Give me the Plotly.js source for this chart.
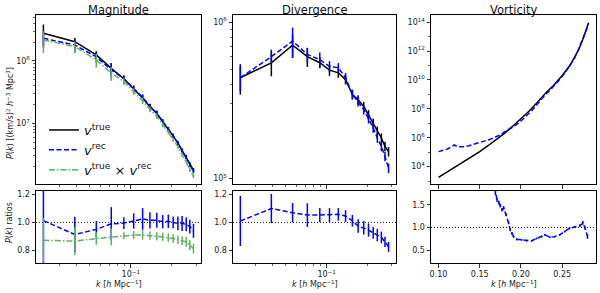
<!DOCTYPE html>
<html>
<head>
<meta charset="utf-8">
<script src="https://cdn.plot.ly/plotly-3.0.1.min.js"></script>
<style>html,body{margin:0;padding:0;background:#fff;}#chart{width:600px;height:293px;}</style>
</head>
<body>
<div id="chart"></div>
<script>
// ---------- data ----------
const panelTitles = ["Magnitude", "Divergence", "Vorticity"];
const legendNames = ["<i>v</i><sup>true</sup>", "<i>v</i><sup>rec</sup>", "<i>v</i><sup>true</sup> × <i>v</i><sup>rec</sup>"];

// k bins for magnitude and divergence [h/Mpc]
const kBins = [0.023, 0.039, 0.056, 0.072, 0.089, 0.105, 0.122, 0.138, 0.155, 0.171, 0.188, 0.204, 0.221, 0.237, 0.254, 0.270, 0.287];

// Magnitude power spectra
const magTrue  = [2.79e8, 2.04e8, 1.25e8, 7.6e7, 5.2e7, 3.6e7, 2.55e7, 1.85e7, 1.44e7, 1.06e7, 8.1e6, 6.3e6, 4.8e6, 3.7e6, 2.9e6, 2.2e6, 1.78e6];
const magRec   = [2.31e8, 1.81e8, 1.16e8, 7.2e7, 5.2e7, 3.6e7, 2.6e7, 1.87e7, 1.45e7, 1.07e7, 8.1e6, 6.3e6, 4.8e6, 3.65e6, 2.85e6, 2.15e6, 1.7e6];
const magCross = [2.17e8, 1.70e8, 1.04e8, 6.4e7, 4.7e7, 3.25e7, 2.3e7, 1.68e7, 1.3e7, 9.5e6, 7.2e6, 5.5e6, 4.2e6, 3.15e6, 2.45e6, 1.8e6, 1.42e6];
// relative 1-sigma errors
const magTrueRelErr  = [0.38, 0.15, 0.15, 0.22, 0.12, 0.12, 0.12, 0.10, 0.10, 0.09, 0.08, 0.08, 0.07, 0.07, 0.07, 0.07, 0.07];
const magRecRelErr   = [0.30, 0.25, 0.20, 0.28, 0.12, 0.12, 0.12, 0.10, 0.10, 0.09, 0.08, 0.08, 0.07, 0.07, 0.07, 0.07, 0.07];
const magCrossRelErr = [0.38, 0.20, 0.25, 0.25, 0.12, 0.12, 0.12, 0.10, 0.10, 0.09, 0.08, 0.08, 0.07, 0.07, 0.07, 0.07, 0.07];

// Magnitude ratios
const magRatioRec      = [1.013, 0.913, 0.950, 0.990, 0.995, 1.010, 1.025, 1.015, 1.015, 1.005, 1.008, 1.000, 0.993, 0.993, 0.986, 0.970, 0.940];
const magRatioRecErr   = [0.40, 0.128, 0.06, 0.12, 0.042, 0.055, 0.078, 0.058, 0.054, 0.048, 0.048, 0.042, 0.05, 0.054, 0.05, 0.05, 0.05];
const magRatioCross    = [0.872, 0.865, 0.884, 0.896, 0.905, 0.909, 0.910, 0.905, 0.900, 0.897, 0.890, 0.884, 0.875, 0.868, 0.860, 0.836, 0.812];
const magRatioCrossErr = [0.16, 0.10, 0.045, 0.06, 0.025, 0.03, 0.035, 0.03, 0.03, 0.03, 0.03, 0.03, 0.03, 0.03, 0.035, 0.035, 0.035];

// Divergence power spectra
const divTrue = [4.4e5, 5.48e5, 7.1e5, 6.0e5, 5.49e5, 4.92e5, 4.73e5, 4.28e5, 3.43e5, 3.18e5, 2.88e5, 2.55e5, 2.25e5, 2.0e5, 1.81e5, 1.6e5, 1.48e5];
const divRec  = [4.4e5, 6.0e5, 7.55e5, 6.2e5, 5.75e5, 5.2e5, 5.1e5, 4.4e5, 3.45e5, 3.1e5, 2.75e5, 2.41e5, 2.1e5, 1.81e5, 1.6e5, 1.38e5, 1.16e5];
const divTrueRelErr = [0.22, 0.18, 0.17, 0.14, 0.08, 0.08, 0.07, 0.07, 0.07, 0.07, 0.07, 0.07, 0.07, 0.07, 0.07, 0.07, 0.07];
const divRecRelErr  = [0.18, 0.11, 0.22, 0.10, 0.11, 0.08, 0.07, 0.07, 0.07, 0.07, 0.07, 0.07, 0.07, 0.07, 0.07, 0.07, 0.07];
const divRatio    = [1.010, 1.100, 1.070, 1.053, 1.053, 1.053, 1.058, 1.046, 1.012, 0.974, 0.961, 0.945, 0.925, 0.909, 0.892, 0.860, 0.824];
const divRatioErr = [0.18, 0.105, 0.07, 0.085, 0.05, 0.05, 0.045, 0.042, 0.042, 0.048, 0.048, 0.048, 0.042, 0.045, 0.042, 0.036, 0.036];

// Vorticity
const vortKTrue = [0.100, 0.110, 0.120, 0.130, 0.140, 0.150, 0.160, 0.170, 0.180, 0.190, 0.200, 0.210, 0.220, 0.230, 0.240, 0.250, 0.260, 0.270, 0.275, 0.280, 0.282];
const vortTrue  = [1.8e3, 4.0e3, 8.9e3, 2.0e4, 4.5e4, 1.1e5, 2.8e5, 7.1e5, 2.0e6, 6.3e6, 2.0e7, 7.1e7, 2.8e8, 1.26e9, 4.5e9, 2.0e10, 1.12e11, 1.26e12, 6.3e12, 4.0e13, 8.9e13];
const vortKRec  = [0.100, 0.105, 0.110, 0.115, 0.119, 0.123, 0.130, 0.137, 0.143, 0.150, 0.157, 0.163, 0.169, 0.175, 0.181, 0.187, 0.193, 0.200, 0.207, 0.213, 0.219, 0.225, 0.230, 0.235, 0.241, 0.247, 0.253, 0.259, 0.265, 0.271, 0.275, 0.278, 0.282];
const vortRec   = [1.1e5, 1.26e5, 1.58e5, 2.24e5, 3.16e5, 2.4e5, 2.4e5, 2.8e5, 3.55e5, 4.5e5, 6.0e5, 7.9e5, 1.12e6, 1.58e6, 2.8e6, 4.3e6, 6.8e6, 1.45e7, 3.4e7, 7.4e7, 1.86e8, 4.8e8, 1.05e9, 1.86e9, 4.1e9, 1.07e10, 2.9e10, 9.3e10, 3.2e11, 1.86e12, 6.9e12, 1.86e13, 7.2e13];
const vortKRatio  = [0.165, 0.169, 0.171, 0.173, 0.175, 0.177, 0.179, 0.182, 0.185, 0.187, 0.189, 0.191, 0.195, 0.201, 0.207, 0.213, 0.219, 0.225, 0.229, 0.235, 0.241, 0.247, 0.253, 0.259, 0.265, 0.2715, 0.275, 0.2775, 0.2807];
const vortRatio   = [2.2, 1.75, 1.6, 1.55, 1.48, 1.39, 1.43, 1.28, 1.10, 0.95, 0.87, 0.80, 0.74, 0.727, 0.71, 0.71, 0.76, 0.80, 0.838, 0.787, 0.80, 0.838, 0.91, 0.985, 1.01, 1.04, 1.10, 1.0, 0.80];
const vortRatioErr= [0.04, 0.04, 0.04, 0.04, 0.04, 0.04, 0.04, 0.03, 0.03, 0.03, 0.03, 0.025, 0.025, 0.02, 0.02, 0.02, 0.02, 0.02, 0.02, 0.02, 0.02, 0.02, 0.02, 0.02, 0.02, 0.03, 0.04, 0.04, 0.05];

const ratioRef = 1.0;

// axis tick labels
const magYTicks = [1e7, 1e8], magYTickText = ["10<sup>7</sup>", "10<sup>8</sup>"];
const divYTicks = [1e5, 1e6], divYTickText = ["10<sup>5</sup>", "10<sup>6</sup>"];
const vortYTicks = [1e4, 1e6, 1e8, 1e10, 1e12, 1e14];
const vortYTickText = ["10<sup>4</sup>", "10<sup>6</sup>", "10<sup>8</sup>", "10<sup>10</sup>", "10<sup>12</sup>", "10<sup>14</sup>"];
const kLogTicks = [0.1], kLogTickText = ["10<sup>−1</sup>"];
const kLinTicks = [0.10, 0.15, 0.20, 0.25];

// ---------- styles ----------
const BLACK = "#000000", BLUE = "#0000ff", GREEN = "rgb(95,178,95)";
const FONT = "DejaVu Sans, Arial, sans-serif";
const DASH = "5px,2.5px", DASHDOT = "6px,2px,1.5px,2px";

function absErr(vals, rel) { return vals.map((v, i) => v * rel[i]); }
function line(x, y, err, color, dash, xa, ya, name, showlegend) {
  return {
    x: x, y: y, type: "scatter", mode: "lines",
    line: {color: color, width: 1.5, dash: dash},
    error_y: err ? {type: "data", array: err, symmetric: true, thickness: 1.5, width: 0, color: color} : undefined,
    xaxis: xa, yaxis: ya, name: name || "", showlegend: !!showlegend, hoverinfo: "skip"
  };
}

const traces = [
  line(kBins, magTrue, absErr(magTrue, magTrueRelErr), BLACK, "solid", "x", "y", legendNames[0], true),
  line(kBins, magRec, absErr(magRec, magRecRelErr), BLUE, DASH, "x", "y", legendNames[1], true),
  line(kBins, magCross, absErr(magCross, magCrossRelErr), GREEN, DASHDOT, "x", "y", legendNames[2], true),
  line(kBins, divTrue, absErr(divTrue, divTrueRelErr), BLACK, "solid", "x2", "y2"),
  line(kBins, divRec, absErr(divRec, divRecRelErr), BLUE, DASH, "x2", "y2"),
  line(vortKTrue, vortTrue, null, BLACK, "solid", "x3", "y3"),
  line(vortKRec, vortRec, null, BLUE, DASH, "x3", "y3"),
  line(kBins, magRatioRec, magRatioRecErr, BLUE, DASH, "x4", "y4"),
  line(kBins, magRatioCross, magRatioCrossErr, GREEN, DASHDOT, "x4", "y4"),
  line(kBins, divRatio, divRatioErr, BLUE, DASH, "x5", "y5"),
  line(vortKRatio, vortRatio, vortRatioErr, BLUE, DASH, "x6", "y6")
];

// ---------- layout ----------
const W = 600, H = 293;
const px = v => v / W, py = v => 1 - v / H;
const colX = [[px(36), px(201)], [px(233), px(396)], [px(431), px(596)]];
const topY = [py(184), py(15)], botY = [py(263), py(191)];

const tickFont = {family: FONT, size: 8, color: "#222"};
function baseAxis(extra) {
  return Object.assign({
    showline: true, mirror: true, linecolor: "#000", linewidth: 1,
    ticks: "outside", ticklen: 3.5, tickwidth: 0.8, tickcolor: "#000",
    showgrid: false, zeroline: false, tickfont: tickFont, fixedrange: true
  }, extra);
}
const minorLogK = {ticks: "outside", ticklen: 2, tickwidth: 0.6, tickcolor: "#000", tickmode: "array",
  tickvals: [0.03, 0.04, 0.05, 0.06, 0.07, 0.08, 0.09, 0.2, 0.3]};
function minorLogY(vals) { return {ticks: "outside", ticklen: 2, tickwidth: 0.6, tickcolor: "#000", tickmode: "array", tickvals: vals}; }
const magMinor = [2e6,3e6,4e6,5e6,6e6,7e6,8e6,9e6,2e7,3e7,4e7,5e7,6e7,7e7,8e7,9e7,2e8,3e8,4e8,5e8];
const divMinor = [2e5,3e5,4e5,5e5,6e5,7e5,8e5,9e5];
const vortMinor = [1e3,1e5,1e7,1e9,1e11,1e13];

const kLogRange = [Math.log10(0.0203), Math.log10(0.3258)];

const layout = {
  width: W, height: H, margin: {l: 0, r: 0, t: 0, b: 0}, autosize: false,
  paper_bgcolor: "#fff", plot_bgcolor: "#fff", hovermode: false,
  font: {family: FONT, color: "#222"},
  showlegend: true,
  legend: {x: px(44), y: py(115), xanchor: "left", yanchor: "top", bgcolor: "rgba(0,0,0,0)",
    font: {family: FONT, size: 13, color: "#111"}, itemwidth: 30, tracegroupgap: 0},
  xaxis:  baseAxis({domain: colX[0], anchor: "y", type: "log", range: kLogRange, tickmode: "array", tickvals: kLogTicks, showticklabels: false, minor: minorLogK}),
  yaxis:  baseAxis({domain: topY, anchor: "x", type: "log", range: [6.026, 8.738], tickmode: "array", tickvals: magYTicks, ticktext: magYTickText, minor: minorLogY(magMinor)}),
  xaxis2: baseAxis({domain: colX[1], anchor: "y2", type: "log", range: kLogRange, tickmode: "array", tickvals: kLogTicks, showticklabels: false, minor: minorLogK}),
  yaxis2: baseAxis({domain: topY, anchor: "x2", type: "log", range: [4.963, 6.045], tickmode: "array", tickvals: divYTicks, ticktext: divYTickText, minor: minorLogY(divMinor)}),
  xaxis3: baseAxis({domain: colX[2], anchor: "y3", range: [0.0909, 0.291], tickmode: "array", tickvals: kLinTicks, showticklabels: false}),
  yaxis3: baseAxis({domain: topY, anchor: "x3", type: "log", range: [2.8, 14.49], tickmode: "array", tickvals: vortYTicks, ticktext: vortYTickText, minor: minorLogY(vortMinor)}),
  xaxis4: baseAxis({domain: colX[0], anchor: "y4", type: "log", range: kLogRange, tickmode: "array", tickvals: kLogTicks, ticktext: kLogTickText, minor: minorLogK}),
  yaxis4: baseAxis({domain: botY, anchor: "x4", range: [0.708, 1.226], tickmode: "array", tickvals: [0.8, 1.0, 1.2], tickformat: ".1f"}),
  xaxis5: baseAxis({domain: colX[1], anchor: "y5", type: "log", range: kLogRange, tickmode: "array", tickvals: kLogTicks, ticktext: kLogTickText, minor: minorLogK}),
  yaxis5: baseAxis({domain: botY, anchor: "x5", range: [0.708, 1.226], tickmode: "array", tickvals: [0.8, 1.0, 1.2], tickformat: ".1f"}),
  xaxis6: baseAxis({domain: colX[2], anchor: "y6", range: [0.0909, 0.291], tickmode: "array", tickvals: kLinTicks, tickformat: ".2f"}),
  yaxis6: baseAxis({domain: botY, anchor: "x6", range: [0.222, 1.8], tickmode: "array", tickvals: [0.5, 1.0, 1.5], tickformat: ".1f"}),
  shapes: ["x4", "x5", "x6"].map((xa, i) => ({
    type: "line", xref: xa + " domain", x0: 0, x1: 1, yref: "y" + (i + 4), y0: ratioRef, y1: ratioRef,
    line: {color: "#000", width: 0.9, dash: "1px,2px"}, layer: "below"
  })),
  annotations: []
};

// titles
panelTitles.forEach((t, i) => {
  layout.annotations.push({text: t, xref: "paper", yref: "paper", x: (colX[i][0] + colX[i][1]) / 2, y: py(10),
    xanchor: "center", yanchor: "middle", showarrow: false, font: {family: FONT, size: 11.5, color: "#111"}});
  layout.annotations.push({text: "<i>k</i> [<i>h</i> Mpc<sup>−1</sup>]", xref: "paper", yref: "paper",
    x: (colX[i][0] + colX[i][1]) / 2, y: py(284), xanchor: "center", yanchor: "middle", showarrow: false,
    font: {family: FONT, size: 8, color: "#222"}});
});
layout.annotations.push({text: "<i>P</i>(<i>k</i>) [(km/s)<sup>2</sup> <i>h</i><sup>−3</sup> Mpc<sup>3</sup>]",
  xref: "paper", yref: "paper", x: px(10), y: py(113), xanchor: "center", yanchor: "middle", textangle: -90,
  showarrow: false, font: {family: FONT, size: 8, color: "#222"}});
layout.annotations.push({text: "<i>P</i>(<i>k</i>) ratios", xref: "paper", yref: "paper", x: px(9), y: py(223),
  xanchor: "center", yanchor: "middle", textangle: -90, showarrow: false, font: {family: FONT, size: 8, color: "#222"}});

Plotly.newPlot("chart", traces, layout, {staticPlot: true, displayModeBar: false});
</script>
</body>
</html>
